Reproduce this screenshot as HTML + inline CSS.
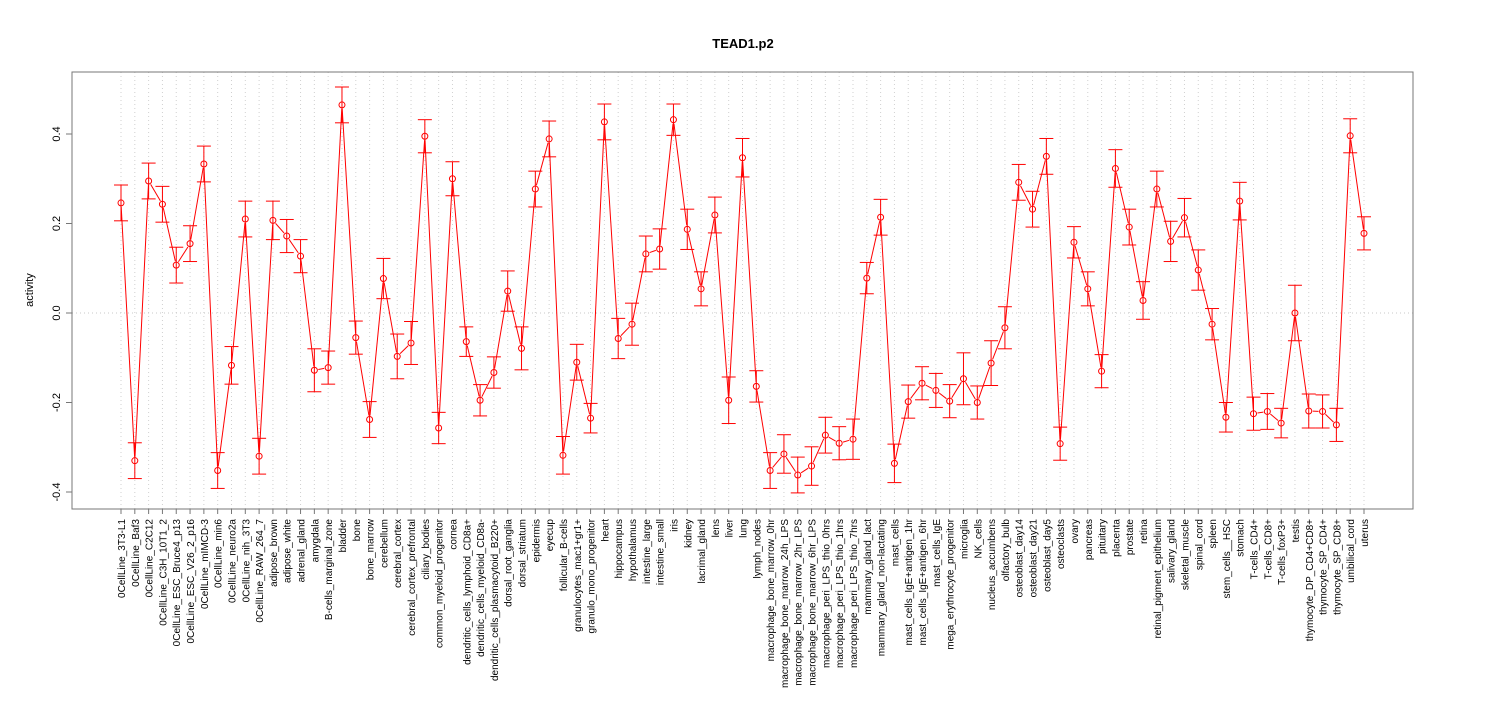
<!DOCTYPE html>
<html><head><meta charset="utf-8"><style>
body{margin:0;background:#fff;}
svg{display:block;font-family:"Liberation Sans",Arial,sans-serif;}
</style></head><body>
<svg id="chart" width="1485" height="720"></svg>
<script>
const categories=["0CellLine_3T3-L1","0CellLine_Baf3","0CellLine_C2C12","0CellLine_C3H_10T1_2","0CellLine_ESC_Bruce4_p13","0CellLine_ESC_V26_2_p16","0CellLine_mIMCD-3","0CellLine_min6","0CellLine_neuro2a","0CellLine_nih_3T3","0CellLine_RAW_264_7","adipose_brown","adipose_white","adrenal_gland","amygdala","B-cells_marginal_zone","bladder","bone","bone_marrow","cerebellum","cerebral_cortex","cerebral_cortex_prefrontal","ciliary_bodies","common_myeloid_progenitor","cornea","dendritic_cells_lymphoid_CD8a+","dendritic_cells_myeloid_CD8a-","dendritic_cells_plasmacytoid_B220+","dorsal_root_ganglia","dorsal_striatum","epidermis","eyecup","follicular_B-cells","granulocytes_mac1+gr1+","granulo_mono_progenitor","heart","hippocampus","hypothalamus","intestine_large","intestine_small","iris","kidney","lacrimal_gland","lens","liver","lung","lymph_nodes","macrophage_bone_marrow_0hr","macrophage_bone_marrow_24h_LPS","macrophage_bone_marrow_2hr_LPS","macrophage_bone_marrow_6hr_LPS","macrophage_peri_LPS_thio_0hrs","macrophage_peri_LPS_thio_1hrs","macrophage_peri_LPS_thio_7hrs","mammary_gland_lact","mammary_gland_non-lactating","mast_cells","mast_cells_IgE+antigen_1hr","mast_cells_IgE+antigen_6hr","mast_cells_IgE","mega_erythrocyte_progenitor","microglia","NK_cells","nucleus_accumbens","olfactory_bulb","osteoblast_day14","osteoblast_day21","osteoblast_day5","osteoclasts","ovary","pancreas","pituitary","placenta","prostate","retina","retinal_pigment_epithelium","salivary_gland","skeletal_muscle","spinal_cord","spleen","stem_cells__HSC","stomach","T-cells_CD4+","T-cells_CD8+","T-cells_foxP3+","testis","thymocyte_DP_CD4+CD8+","thymocyte_SP_CD4+","thymocyte_SP_CD8+","umbilical_cord","uterus"];
const values=[0.246,-0.33,0.295,0.243,0.107,0.155,0.333,-0.352,-0.117,0.21,-0.32,0.207,0.172,0.127,-0.128,-0.122,0.465,-0.055,-0.238,0.077,-0.097,-0.067,0.395,-0.257,0.3,-0.064,-0.195,-0.133,0.049,-0.079,0.277,0.389,-0.318,-0.11,-0.235,0.427,-0.057,-0.025,0.132,0.143,0.432,0.187,0.054,0.219,-0.195,0.347,-0.164,-0.352,-0.315,-0.362,-0.342,-0.273,-0.291,-0.282,0.078,0.214,-0.336,-0.198,-0.157,-0.173,-0.197,-0.147,-0.2,-0.112,-0.033,0.292,0.232,0.35,-0.292,0.158,0.054,-0.13,0.323,0.192,0.028,0.277,0.16,0.213,0.096,-0.025,-0.233,0.25,-0.225,-0.22,-0.246,0.0,-0.219,-0.22,-0.25,0.396,0.178];
const errors=[0.04,0.04,0.04,0.04,0.04,0.04,0.04,0.04,0.042,0.04,0.04,0.043,0.037,0.037,0.048,0.037,0.04,0.037,0.04,0.045,0.05,0.048,0.037,0.035,0.038,0.033,0.035,0.035,0.045,0.048,0.04,0.04,0.042,0.04,0.033,0.04,0.045,0.047,0.04,0.045,0.035,0.045,0.038,0.04,0.052,0.043,0.035,0.04,0.043,0.04,0.043,0.04,0.037,0.045,0.035,0.04,0.043,0.037,0.037,0.038,0.037,0.058,0.037,0.05,0.047,0.04,0.04,0.04,0.037,0.035,0.038,0.037,0.042,0.04,0.042,0.04,0.045,0.043,0.045,0.035,0.033,0.042,0.037,0.04,0.033,0.062,0.038,0.037,0.037,0.038,0.037];
const yTicks=[-0.4,-0.2,0.0,0.2,0.4];
const NS="http://www.w3.org/2000/svg";
const svg=document.getElementById('chart');
const L=72,R=1413,T=72,B=509;
const x=i=>121+i*(1364-121)/(categories.length-1);
const y=v=>313-v*447.5;
function el(tag,attrs,parent){const e=document.createElementNS(NS,tag);for(const k in attrs)e.setAttribute(k,attrs[k]);(parent||svg).appendChild(e);return e;}
categories.forEach((c,i)=>{const g=el('line',{x1:x(i),x2:x(i),y1:T,y2:B,stroke:'#d0d0d0','stroke-dasharray':'1,3'});

});
const zl=el('line',{x1:L,x2:R,y1:y(0),y2:y(0),stroke:'#c8c8c8','stroke-dasharray':'1,3'});


const box=el('rect',{x:L,y:T,width:R-L,height:B-T,fill:'none',stroke:'#777'});


const t=el('text',{x:743,y:48,'text-anchor':'middle','font-size':13,'font-weight':'bold'});t.textContent='TEAD1.p2';


const yl=el('text',{x:0,y:0,'text-anchor':'middle','font-size':11,transform:'translate(33,290) rotate(-90)'});yl.textContent='activity';


yTicks.forEach(v=>{el('line',{x1:L,x2:L-6,y1:y(v),y2:y(v),stroke:'#777'});
const tx=el('text',{x:0,y:0,'text-anchor':'middle','font-size':11,transform:`translate(60,${y(v)}) rotate(-90)`});tx.textContent=v.toFixed(1);

});
categories.forEach((c,i)=>{el('line',{x1:x(i),x2:x(i),y1:B,y2:B+5,stroke:'#777'});
const tx=el('text',{x:0,y:0,'text-anchor':'end','font-size':10,transform:`translate(${x(i)+4},519) rotate(-90)`});tx.textContent=c;

});
for(let i=0;i<values.length-1;i++){const x1=x(i),y1=y(values[i]),x2=x(i+1),y2=y(values[i+1]);const d=Math.hypot(x2-x1,y2-y1);if(d<9)continue;const ux=(x2-x1)/d,uy=(y2-y1)/d;
const s=el('line',{x1:x1+ux*4,y1:y1+uy*4,x2:x2-ux*4,y2:y2-uy*4,stroke:'#ff0000'});

}
values.forEach((v,i)=>{const cx=x(i);
const g=el('g',{});


el('line',{x1:cx,x2:cx,y1:y(v+errors[i]),y2:y(v-errors[i]),stroke:'#ff0000'},g);
el('line',{x1:cx-7,x2:cx+7,y1:y(v+errors[i]),y2:y(v+errors[i]),stroke:'#ff0000'},g);
el('line',{x1:cx-7,x2:cx+7,y1:y(v-errors[i]),y2:y(v-errors[i]),stroke:'#ff0000'},g);
const p=el('circle',{cx:cx,cy:y(v),r:3,fill:'none',stroke:'#ff0000'});

});
</script>
</body></html>
